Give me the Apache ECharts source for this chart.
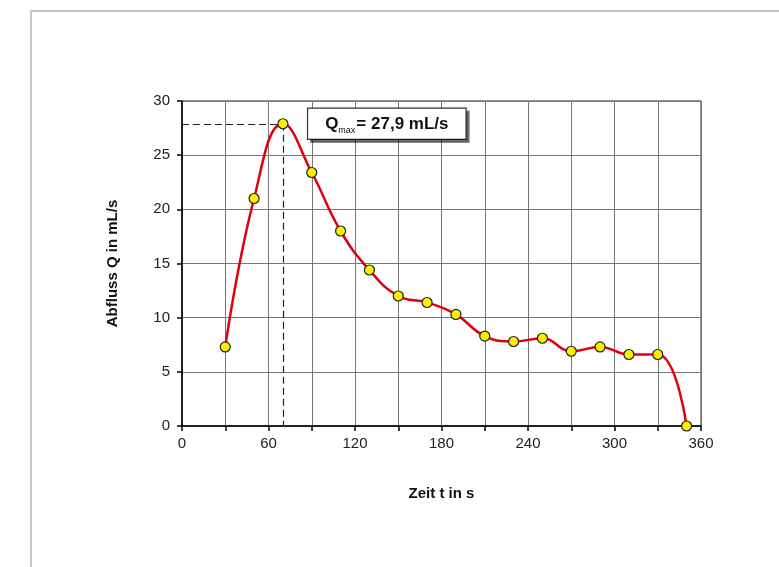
<!DOCTYPE html>
<html>
<head>
<meta charset="utf-8">
<script src="https://cdn.jsdelivr.net/npm/echarts@6/dist/echarts.min.js"></script>
<style>
  html, body { margin: 0; padding: 0; background: #fff; }
  #chart { width: 779px; height: 567px; }
</style>
</head>
<body>
<div id="chart"></div>
<script>
// Messwerte: Zeit t in s, Abfluss Q in mL/s
var zeit = [30, 50, 70, 90, 110, 130, 150, 170, 190, 210, 230, 250, 270, 290, 310, 330, 350];
var abfluss = [7.3, 21.0, 27.9, 23.4, 18.0, 14.4, 12.0, 11.4, 10.3, 8.3, 7.8, 8.1, 6.9, 7.3, 6.6, 6.6, 0];
var qMaxZeit = 70;
var qMax = 27.9;

var chart = echarts.init(document.getElementById('chart'));
var fontName = 'Liberation Sans, Arial, sans-serif';

var option = {
  backgroundColor: '#fff',
  animation: false,
  graphic: [{
    // äußerer Rahmen
    type: 'rect',
    shape: { x: 31, y: 11, width: 800, height: 600 },
    style: { fill: 'none', stroke: '#c8c8c8', lineWidth: 2 },
    silent: true
  }],
  grid: {
    left: 182, top: 101, width: 519, height: 325,
    show: true, borderColor: '#222', borderWidth: 1, backgroundColor: 'transparent'
  },
  xAxis: {
    type: 'value',
    min: 0, max: 360, interval: 30,
    name: 'Zeit t in s',
    nameLocation: 'middle',
    nameGap: 60,
    nameTextStyle: { fontFamily: fontName, fontWeight: 'bold', fontSize: 15, color: '#111' },
    axisLine: { lineStyle: { color: '#000', width: 1.5 } },
    axisTick: { show: true, inside: false, length: 5, lineStyle: { color: '#000', width: 1.5 } },
    axisLabel: {
      fontFamily: fontName, fontSize: 15, color: '#222', margin: 10,
      formatter: function (v) { return v % 60 === 0 ? v : ''; }
    },
    splitLine: { show: true, lineStyle: { color: '#777', width: 1 } }
  },
  yAxis: {
    type: 'value',
    min: 0, max: 30, interval: 5,
    name: 'Abfluss Q in mL/s',
    nameLocation: 'middle',
    nameGap: 62,
    nameTextStyle: { fontFamily: fontName, fontWeight: 'bold', fontSize: 15, color: '#111' },
    axisLine: { show: true, lineStyle: { color: '#000', width: 1.5 } },
    axisTick: { show: true, inside: false, length: 5, lineStyle: { color: '#000', width: 1.5 } },
    axisLabel: { fontFamily: fontName, fontSize: 15, color: '#222', margin: 12 },
    splitLine: { show: true, lineStyle: { color: '#777', width: 1 } }
  },
  series: [{
    type: 'line',
    data: zeit.map(function (t, i) { return [t, abfluss[i]]; }),
    smooth: 0.45,
    symbol: 'circle',
    symbolSize: 10,
    lineStyle: { color: '#e0000f', width: 2.5 },
    itemStyle: { color: '#ffee00', borderColor: '#222', borderWidth: 1.2 },
    z: 5,
    markLine: {
      silent: true,
      symbol: 'none',
      label: { show: false },
      lineStyle: { color: '#222', type: [7, 4], width: 1.2 },
      data: [
        [{ coord: [0, qMax] }, { coord: [qMaxZeit, qMax] }],
        [{ coord: [qMaxZeit, qMax] }, { coord: [qMaxZeit, 0] }]
      ]
    },
    markPoint: {
      silent: true,
      symbol: 'circle',
      symbolSize: 0,
      data: [{ coord: [87.5, 27.9] }],
      label: {
        show: true,
        position: 'right',
        distance: 0,
        formatter: '{q|Q}{sub|max}{q|= 27,9 mL/s}',
        backgroundColor: '#fff',
        borderColor: '#333',
        borderWidth: 1.2,
        padding: [5, 17, 4, 17],
        shadowColor: 'rgba(0,0,0,0.45)',
        shadowOffsetX: 3,
        shadowOffsetY: 3,
        shadowBlur: 0,
        rich: {
          q: { fontFamily: fontName, fontWeight: 'bold', fontSize: 17, color: '#111', lineHeight: 21 },
          sub: { fontFamily: fontName, fontSize: 9, color: '#111', verticalAlign: 'bottom', padding: [9, 1, 0, 0], lineHeight: 21 }
        }
      }
    }
  }]
};

chart.setOption(option);
window.onresize = chart.resize;
</script>
</body>
</html>
